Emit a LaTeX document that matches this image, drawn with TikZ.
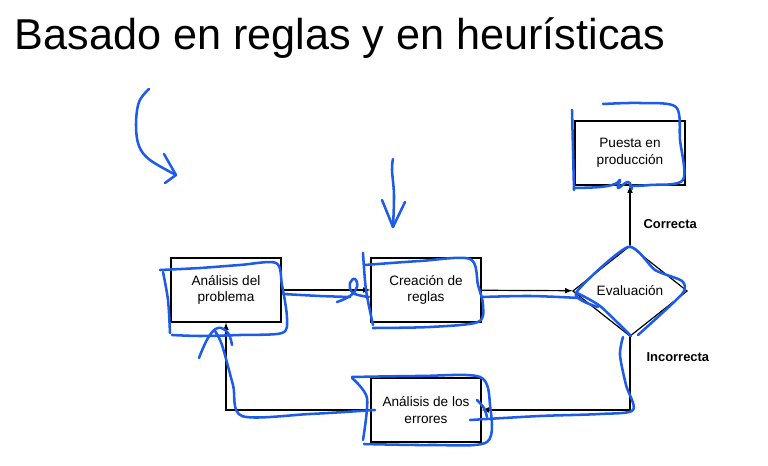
\documentclass[tikz,border=0pt]{standalone}
\usepackage{fontspec}
\setmainfont{Liberation Sans}
\usepackage{tikz}
\usetikzlibrary{shapes.geometric}
\definecolor{pen}{RGB}{28,92,232}

\begin{document}
\begin{tikzpicture}[
            x = 0.75pt, y = -0.75pt, % pixel grid
            > = latex, % arrow head style
            line width = 0.9pt,
            box/.style = {shape=rectangle, draw=black, align=center,
                minimum width=82.5pt, minimum height=48pt, inner sep=0pt,
                font=\fontsize{10.2}{12.6}\selectfont},
            check/.style = {shape=diamond, draw=black, aspect=1.26,
                minimum width=86pt, minimum height=68pt, inner sep=0pt,
                font=\fontsize{10.2}{12.6}\selectfont},
            tag/.style = {anchor=west, inner sep=0pt, font=\fontsize{9.7}{12}\selectfont\bfseries},
            ink/.style = {draw=pen, line width=1.9pt, line cap=round, line join=round}
        ]
\useasboundingbox (0,0) rectangle (768,466);

\node[anchor=base west, inner sep=0pt, font=\fontsize{32.4}{38}\selectfont] (title) at (14,50) {Basado en reglas y en heurísticas};

\node[box] (P) at (226,290) {Análisis del\\problema};
\node[box] (C) at (426,290) {Creación de\\reglas};
\node[check] (V) at (630,291) {Evaluación};
\node[box] (D) at (630,153) {Puesta en\\producción};
\node[box] (E) at (426,410) {Análisis de los\\errores};
\node[tag] (ok) at (643,224) {Correcta};
\node[tag] (ko) at (646,357) {Incorrecta};

 \path [->] (P) edge (C);
 \path [->] (C) edge (V);
 \path [->] (V) edge (D);
 \draw [->] (V.south) |- (E.east);
 \draw [->] (E.west) -| (P.south);

% hand-drawn notes
\draw[ink] plot[smooth, tension=0.6] coordinates {(149,89) (139,102) (136,125) (139,146) (150,160) (176,175)};
\draw[ink] (164,154) -- (176,175) -- (165,183);
\draw[ink] plot[smooth, tension=0.6] coordinates {(393,159) (392,170) (394,195) (393,227)};
\draw[ink] (382,200) -- (393,227) -- (405,202);

\draw[ink] plot[smooth, tension=0.5] coordinates {(163,272) (168,300) (170,333)};
\draw[ink] plot[smooth, tension=0.5] coordinates {(160,270) (200,268) (240,265) (276,263) (282,285) (287,318) (282,333) (240,335) (200,336) (172,335)};
\draw[ink] plot[smooth, tension=0.5] coordinates {(283,294) (320,296) (350,297)};
\draw[ink] plot[smooth, tension=0.7] coordinates {(337,302) (350,296) (357,287) (355,279) (350,283) (353,293) (369,297)};

\draw[ink] plot[smooth, tension=0.5] coordinates {(363,253) (366,290) (373,325)};
\draw[ink] plot[smooth, tension=0.5] coordinates {(365,265) (420,261) (470,259) (478,285) (483,305) (478,322) (430,327) (373,328)};
\draw[ink] plot[smooth, tension=0.5] coordinates {(482,297) (530,296) (580,298)};

\draw[ink] plot[smooth, tension=0.4] coordinates {(598,307) (576,293) (628,247) (655,270) (682,281) (682,294) (638,335)};
\draw[ink] plot[smooth, tension=0.4] coordinates {(577,293) (600,306) (631,336)};

\draw[ink] plot[smooth, tension=0.5] coordinates {(572,110) (573,150) (574,190)};
\draw[ink] plot[smooth, tension=0.5] coordinates {(603,104) (640,103) (676,107) (680,140) (683,180) (650,185) (630,186)};
\draw[ink] plot[smooth, tension=0.7] coordinates {(574,188) (600,187) (615,184) (620,180) (618,188) (628,182) (632,189)};

\draw[ink] plot[smooth, tension=0.5] coordinates {(623,337) (620,355) (626,385) (633,410) (600,414) (540,416) (470,420)};
\draw[ink] plot[smooth, tension=0.5] coordinates {(352,378) (367,398) (363,440)};
\draw[ink] plot[smooth, tension=0.5] coordinates {(352,377) (420,376) (480,377) (490,405) (487,442) (430,445) (364,444)};
\draw[ink] plot[smooth, tension=0.5] coordinates {(477,400) (484,408) (487,417)};
\draw[ink] plot[smooth, tension=0.5] coordinates {(375,410) (310,414) (242,416) (233,385) (222,345) (215,331)};
\draw[ink] plot[smooth, tension=0.7] coordinates {(199,358) (208,338) (218,328) (228,333) (232,345)};
\end{tikzpicture}
\end{document}
